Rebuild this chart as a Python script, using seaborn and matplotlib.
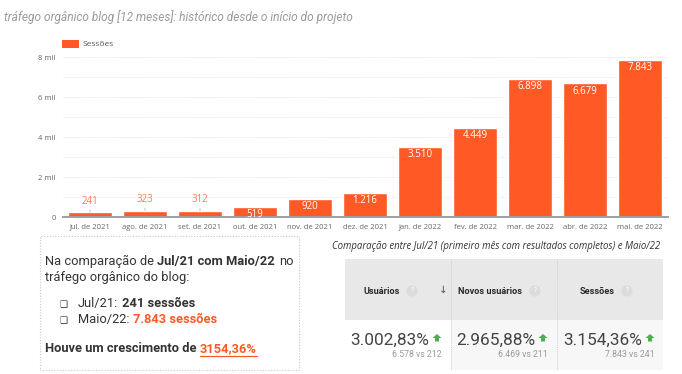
import matplotlib
matplotlib.use("Agg")
import matplotlib.pyplot as plt
from matplotlib.patches import Rectangle, Polygon
from matplotlib.lines import Line2D
import seaborn as sns
import pandas as pd

# dados do gráfico de barras
meses = ["jul. de 2021", "ago. de 2021", "set. de 2021", "out. de 2021", "nov. de 2021",
         "dez. de 2021", "jan. de 2022", "fev. de 2022", "mar. de 2022", "abr. de 2022",
         "mai. de 2022"]
sessoes = [241, 323, 312, 519, 920, 1216, 3510, 4449, 6898, 6679, 7843]
ticks_y = [0, 2000, 4000, 6000, 8000]
rotulos_y = ["0", "2 mil", "4 mil", "6 mil", "8 mil"]

# dados da tabela de comparação
metricas = ["Usuários", "Novos usuários", "Sessões"]
valores_mai22 = [6578, 6469, 7843]
valores_jul21 = [212, 211, 241]

LARGURA, ALTURA = 682, 374
LARANJA = "#ff5a26"
TEXTO = "#333333"


def fx(x):
    return x / LARGURA


def fy(y):
    return 1 - y / ALTURA


def milhar(n):
    return f"{n:,}".replace(",", ".")


def pct_br(v, separador=True):
    s = f"{v:,.2f}" if separador else f"{v:.2f}"
    return s.replace(",", "X").replace(".", ",").replace("X", ".")


sns.set_style("white")
plt.rcParams["font.family"] = ["Roboto", "DejaVu Sans"]

fig = plt.figure(figsize=(LARGURA / 100, ALTURA / 100), dpi=100)
renderer = fig.canvas.get_renderer()

# título
fig.text(fx(4), fy(17), "tráfego orgânico blog [12 meses]: histórico desde o início do projeto",
         fontsize=8.6, style="italic", color="#9a9a9a", va="center", ha="left")

# gráfico de barras
ax = fig.add_axes([fx(62.5), fy(217), fx(667.5) - fx(62.5), fy(57) - fy(217)])
df = pd.DataFrame({"mes": meses, "sessoes": sessoes})
sns.barplot(data=df, x="mes", y="sessoes", color=LARANJA, saturation=1, width=0.8, ax=ax)
ax.set_xlim(-0.5, len(meses) - 0.5)
ax.set_ylim(0, 8000)
ax.set_yticks(ticks_y)
ax.set_yticklabels(rotulos_y)
ax.set_yticks([1000, 3000, 5000, 7000], minor=True)
ax.grid(True, axis="y", which="both", color="#e8e8e8", linewidth=0.7, linestyle=(0, (1, 1)))
ax.set_axisbelow(True)
for lado in ["top", "right", "left"]:
    ax.spines[lado].set_visible(False)
ax.spines["bottom"].set_color("#a0a0a0")
ax.spines["bottom"].set_linewidth(1.4)
ax.tick_params(length=0, labelsize=5.5, labelcolor="#666666", pad=5)
for rot in ax.get_xticklabels() + ax.get_yticklabels():
    rot.set_family("Open Sans")
ax.set_xlabel("")
ax.set_ylabel("")

for i, v in enumerate(sessoes):
    if v < 500:
        ax.annotate(milhar(v), xy=(i, v), xytext=(0, 4), textcoords="offset points",
                    ha="center", va="bottom", fontsize=7, color="#ff7a50", family="Open Sans",
                    arrowprops=dict(arrowstyle="-", color="#b0b0b0", lw=0.6, shrinkA=0, shrinkB=0))
    else:
        ax.annotate(milhar(v), xy=(i, v), xytext=(0, -1.5), textcoords="offset points",
                    ha="center", va="top", fontsize=7, color="white", family="Open Sans")

# legenda
fig.patches.append(Rectangle((fx(62), fy(48)), fx(79) - fx(62), fy(40) - fy(48),
                             transform=fig.transFigure, facecolor=LARANJA, edgecolor="none"))
fig.text(fx(83), fy(44), "Sessões", fontsize=6, color="#555555", va="center", family="Open Sans")

# caixa de texto com a comparação
fig.patches.append(Rectangle((fx(40), fy(370)), fx(299) - fx(40), fy(236) - fy(370),
                             transform=fig.transFigure, facecolor="none", edgecolor="#c8c8c8",
                             linestyle=(0, (1, 1.5)), linewidth=0.8))


def linha_mista(x, y, partes, tamanho=9.3):
    espaco = tamanho * 0.27 * 100 / 72
    ultimo = None
    for texto, cor, peso in partes:
        if texto == " ":
            x += espaco
            continue
        ultimo = fig.text(fx(x), fy(y), texto, color=cor, weight=peso, fontsize=tamanho,
                          va="baseline", ha="left")
        x += ultimo.get_window_extent(renderer=renderer).width
    return ultimo


linha_mista(45, 265, [("Na comparação de", TEXTO, "normal"), (" ", None, None),
                      ("Jul/21 com Maio/22", TEXTO, "bold"), (" ", None, None),
                      ("no", TEXTO, "normal")])
linha_mista(45, 281, [("tráfego orgânico do blog:", TEXTO, "normal")])

for yb in [307, 323]:
    fig.text(fx(64), fy(yb), "❑", fontsize=6.5, family="DejaVu Sans", color=TEXTO,
             va="baseline", ha="center")
linha_mista(78, 307, [("Jul/21:", TEXTO, "normal"), (" ", None, None),
                      (f"{milhar(sessoes[0])} sessões", TEXTO, "bold")])
linha_mista(78, 323, [("Maio/22:", TEXTO, "normal"), (" ", None, None),
                      (f"{milhar(sessoes[-1])} sessões", LARANJA, "bold")])

crescimento = (sessoes[-1] / sessoes[0] - 1) * 100
t_pct = linha_mista(45, 352, [("Houve um crescimento de", TEXTO, "bold"), (" ", None, None),
                              (pct_br(crescimento, separador=False) + "%", LARANJA, "bold")])
bb = t_pct.get_window_extent(renderer=renderer)
fig.lines.append(Line2D([bb.x0 / fig.bbox.width, bb.x1 / fig.bbox.width], [fy(356), fy(356)],
                        transform=fig.transFigure, color=LARANJA, linewidth=0.9))

# tabela de comparação
fig.text(fx(332), fy(249), "Comparação entre Jul/21 (primeiro mês com resultados completos) e Maio/22",
         fontsize=6.9, style="italic", color=TEXTO, family="Open Sans", va="baseline")

colunas = [(345, 451), (451, 557), (557, 663)]
fundos_corpo = ["#ffffff", "#f7f7f7", "#f7f7f7"]
for (x0, x1), fundo in zip(colunas, fundos_corpo):
    fig.patches.append(Rectangle((fx(x0), fy(320)), fx(x1) - fx(x0), fy(259) - fy(320),
                                 transform=fig.transFigure, facecolor="#e8e8e8", edgecolor="none"))
    fig.patches.append(Rectangle((fx(x0), fy(370)), fx(x1) - fx(x0), fy(320) - fy(370),
                                 transform=fig.transFigure, facecolor=fundo, edgecolor="none"))
for xd in [451, 557]:
    fig.lines.append(Line2D([fx(xd), fx(xd)], [fy(259), fy(370)], transform=fig.transFigure,
                            color="#cfcfcf", linewidth=0.7, linestyle=(0, (1, 1))))

pos_cabecalho = [(363, 412), (458, 535), (580, 627)]
for nome, (xt, xq) in zip(metricas, pos_cabecalho):
    fig.text(fx(xt), fy(291), nome, fontsize=6.6, weight="bold", color="#2a2a2a", va="center")
    fig.text(fx(xq), fy(291), "?", fontsize=5, color="white", va="center", ha="center",
             bbox=dict(boxstyle="circle,pad=0.3", facecolor="#dcdcdc", edgecolor="none"))
fig.text(fx(443), fy(290), "↓", fontsize=7.5, color="#555555", va="center", ha="center",
         family="DejaVu Sans")

pos_setas = [437, 543, 650]
for atual, anterior, xs in zip(valores_mai22, valores_jul21, pos_setas):
    variacao = (atual / anterior - 1) * 100
    fig.text(fx(xs - 8), fy(345), pct_br(variacao) + "%", fontsize=12.4, color="#444444",
             va="baseline", ha="right")
    seta = [(xs - 4.5, 338), (xs, 334), (xs + 4.5, 338), (xs + 2, 338), (xs + 2, 341.5),
            (xs - 2, 341.5), (xs - 2, 338)]
    fig.patches.append(Polygon([(fx(a), fy(b)) for a, b in seta], closed=True,
                               transform=fig.transFigure, facecolor="#4caf50", edgecolor="none"))
    fig.text(fx(xs + 5), fy(357), f"{milhar(atual)} vs {milhar(anterior)}", fontsize=6.3,
             color="#9a9a9a", va="baseline", ha="right")

fig.savefig("out.png", dpi=100)
